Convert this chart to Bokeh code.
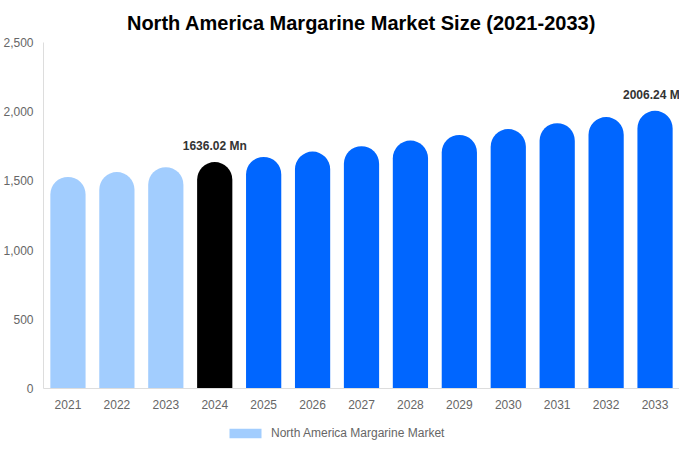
from bokeh.plotting import figure
from bokeh.layouts import column
from bokeh.models import ColumnDataSource, FixedTicker, NumeralTickFormatter, Legend, LegendItem
from bokeh.core.properties import value
from bokeh.embed import file_html
from bokeh.resources import INLINE

years = ["2021", "2022", "2023", "2024", "2025", "2026", "2027", "2028", "2029", "2030", "2031", "2032", "2033"]
sizes = [1528.6, 1563.6, 1599.4, 1636.02, 1673.5, 1711.9, 1751.1, 1791.2, 1832.3, 1874.3, 1917.2, 1961.2, 2006.24]
colors = ["#a2cdfe"] * 3 + ["#000000"] + ["#0066ff"] * 9
label_years = ["2024", "2033"]
label_values = [1636.02, 2006.24]
label_texts = ["1636.02 Mn", "2006.24 Mn"]
y_ticks = [0, 500, 1000, 1500, 2000, 2500]
series_name = "North America Margarine Market"
series_color = "#a2cdfe"

FONT = "Liberation Sans"

src = ColumnDataSource(dict(x=years, top=sizes, color=colors))
lsrc = ColumnDataSource(dict(x=label_years, y=label_values, t=label_texts))

p = figure(x_range=years, y_range=(0, 2500), frame_width=636, frame_height=346,
           output_backend="svg", toolbar_location=None,
           min_border_left=36, min_border_right=0, min_border_top=0, min_border_bottom=0,
           title="North America Margarine Market Size (2021-2033)")
p.title.align = "center"
p.title.text_font = FONT
p.title.text_font_size = "20px"
p.title.text_font_style = "bold"
p.title.text_color = "#000000"
p.title.standoff = 18

p.outline_line_color = None
p.grid.visible = False
p.background_fill_color = "white"

bars = p.vbar(x="x", top="top", width=0.72, source=src, fill_color="color", line_color=None,
              border_radius=(18, 18, 0, 0))

p.text(x="x", y="y", text="t", source=lsrc, text_font=value(FONT), text_font_size="12px",
       text_font_style="bold", text_color="#333333", text_align="center",
       text_baseline="middle", y_offset=-16)

p.yaxis.ticker = FixedTicker(ticks=y_ticks)
p.yaxis.formatter = NumeralTickFormatter(format="0,0")
for ax in (p.xaxis, p.yaxis):
    ax.axis_line_color = "#dddddd"
    ax.major_tick_line_color = None
    ax.minor_tick_line_color = None
    ax.major_label_text_font = FONT
    ax.major_label_text_font_size = "12px"
    ax.major_label_text_color = "#666666"
p.xaxis.major_tick_out = 0
p.xaxis.major_tick_in = 0
p.xaxis.major_label_standoff = 11
p.yaxis.major_label_standoff = 4

# legend strip below the chart (zero-height proxy bar carries the legend swatch)
lg = figure(width=672, height=32, output_backend="svg", toolbar_location=None,
            min_border_left=0, min_border_right=0, min_border_top=0, min_border_bottom=0,
            x_range=(0, 1), y_range=(0, 1))
lg.axis.visible = False
lg.grid.visible = False
lg.outline_line_color = None
lsw = lg.vbar(x=[0.5], top=[0], width=0.5, fill_color=series_color, line_color=None)
legend = Legend(items=[LegendItem(label=series_name, renderers=[lsw])],
                location=(182, 3), orientation="horizontal",
                glyph_width=40, glyph_height=12, label_height=12, label_text_font=FONT,
                label_text_font_size="12px", label_text_color="#666666",
                border_line_color=None, background_fill_alpha=0, margin=0, padding=0,
                label_standoff=6)
lg.add_layout(legend)

layout = column(p, lg, spacing=0)
open("out.html", "w").write(file_html(layout, INLINE))
